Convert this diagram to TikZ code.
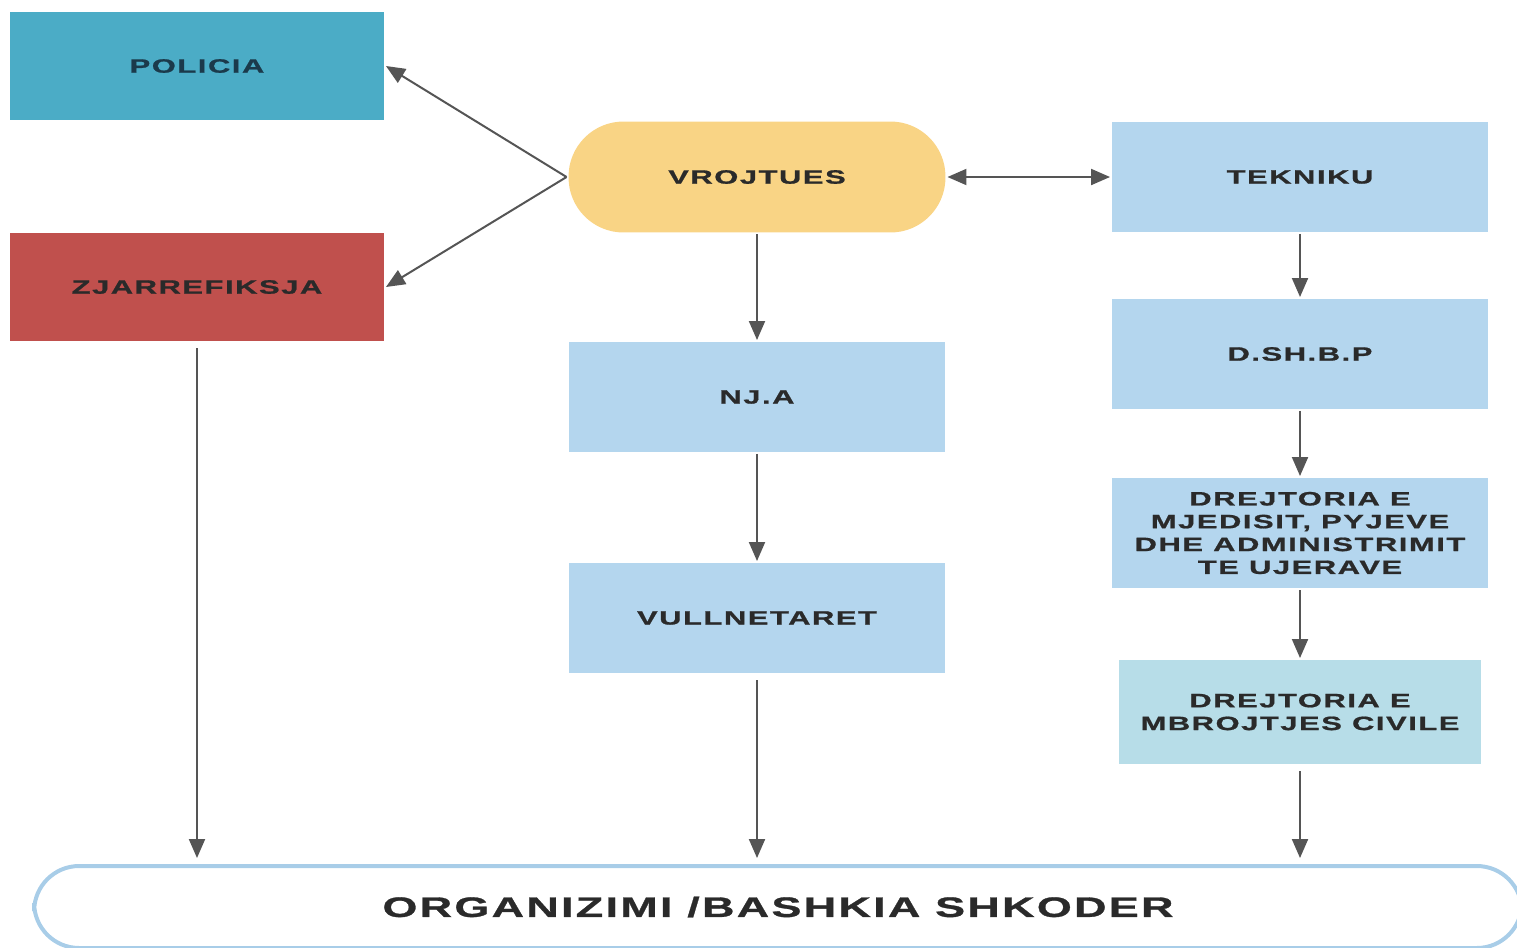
\documentclass[tikz,border=0pt]{standalone}
\usepackage{fontspec}
\setmainfont{Liberation Sans}[FakeStretch=1.6,LetterSpace=8,FakeBold=1]
\usepackage{tikz}
\usetikzlibrary{arrows.meta}
\definecolor{policeblue}{HTML}{4BACC6}
\definecolor{policeink}{HTML}{1B3A4B}
\definecolor{firered}{HTML}{C0504D}
\definecolor{watchgold}{HTML}{F9D485}
\definecolor{unitblue}{HTML}{B4D6EE}
\definecolor{civilblue}{HTML}{B7DDE8}
\definecolor{frameblue}{HTML}{A8CDE8}
\definecolor{inkgray}{HTML}{2A2A2A}
\definecolor{linegray}{HTML}{555555}

\begin{document}
\begin{tikzpicture}[x=0.02cm, y=-0.02cm]
        \useasboundingbox (0,0) rectangle (1517,947);
        \begin{scope}[every node/.style={rectangle, inner sep=0, outer sep=0.04cm, align=center, text=inkgray, font=\bfseries\fontsize{11}{13}\selectfont, minimum width=7.52cm, minimum height=2.2cm}]
            \node[fill=policeblue, text=policeink, minimum width=7.48cm, minimum height=2.18cm] (Policia) at (197,66) {POLICIA};
            \node[fill=firered, minimum width=7.48cm, minimum height=2.18cm] (Zjarr) at (197,287) {ZJARREFIKSJA};
            \node[fill=watchgold, rounded corners=1.1cm, minimum width=7.54cm, minimum height=2.22cm] (Vroj) at (757,177) {VROJTUES};
            \node[fill=unitblue] (Tekniku) at (1300,177) {TEKNIKU};
            \node[fill=unitblue] (Dshbp) at (1300,354) {D.SH.B.P};
            \node[fill=unitblue] (Nja) at (757,397) {NJ.A};
            \node[fill=unitblue] (Vull) at (757,618) {VULLNETARET};
            \node[fill=unitblue] (Mjedis) at (1300,533) {DREJTORIA E\\MJEDISIT, PYJEVE\\DHE ADMINISTRIMIT\\TE UJERAVE};
            \node[fill=civilblue, minimum width=7.26cm, minimum height=2.08cm] (Civile) at (1300,712) {DREJTORIA E\\MBROJTJES CIVILE};
            \node[draw=frameblue, line width=0.08cm, rounded corners=0.9cm, minimum width=29.76cm, minimum height=1.64cm, font=\bfseries\fontsize{16}{18}\selectfont] (Org) at (778,907) {ORGANIZIMI /BASHKIA SHKODER};
        \end{scope}
        \begin{scope}[every path/.style={linegray, line width=0.04cm, >={Triangle[length=0.38cm,width=0.32cm]}, ->}]
            \path (Vroj.west) edge (Policia.east);
            \path (Vroj.west) edge (Zjarr.east);
            \path (Vroj) edge [<->] (Tekniku);
            \path (Vroj) edge (Nja);
            \path (Nja) edge (Vull);
            \path (Tekniku) edge (Dshbp);
            \path (Dshbp) edge (Mjedis);
            \path (Mjedis) edge (Civile);
            \path (Zjarr) edge [shorten <=0.1cm, shorten >=0.12cm] (Zjarr |- Org.north);
            \path (Vull) edge [shorten <=0.1cm, shorten >=0.12cm] (Vull |- Org.north);
            \path (Civile) edge [shorten <=0.1cm, shorten >=0.12cm] (Civile |- Org.north);
        \end{scope}
    \end{tikzpicture}
\end{document}
